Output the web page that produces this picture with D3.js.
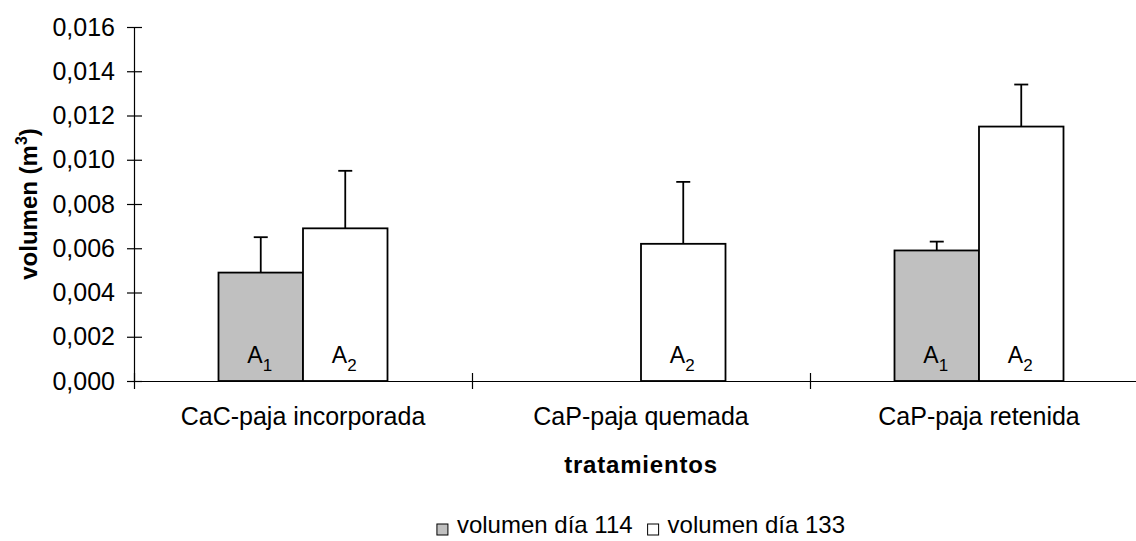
<!DOCTYPE html>
<html>
<head>
<meta charset="utf-8">
<script src="https://cdn.jsdelivr.net/npm/d3@7"></script>
<style>
  html, body { margin: 0; padding: 0; background: #fff; }
  svg { display: block; font-family: "Liberation Sans", Arial, Helvetica, sans-serif; }
</style>
</head>
<body>
<svg id="chart" width="1136" height="541"></svg>
<script>
// Treatments and series
const categories = ["CaC-paja incorporada", "CaP-paja quemada", "CaP-paja retenida"];
const seriesNames = ["volumen día 114", "volumen día 133"];

// Mean volume (m³) and standard error per treatment; null = not measured
const day114 = [0.0049, null, 0.0059];
const day114Err = [0.0016, null, 0.0004];
const day133 = [0.0069, 0.0062, 0.0115];
const day133Err = [0.0026, 0.0028, 0.0019];

// Significance letters drawn inside the bars (letter + subscript)
const day114Labels = ["A1", null, "A1"];
const day133Labels = ["A2", "A2", "A2"];

const yTicks = [0, 0.002, 0.004, 0.006, 0.008, 0.010, 0.012, 0.014, 0.016];

const seriesFill = ["#c0c0c0", "#ffffff"];

const svg = d3.select("#chart");
const plot = { left: 134, right: 1148, top: 27, bottom: 381 };

const x = d3.scaleBand().domain(categories).range([plot.left, plot.right]).paddingInner(0).paddingOuter(0);
const xEdge = d3.scaleLinear().domain([0, categories.length]).range([plot.left, plot.right]);
const y = d3.scaleLinear().domain([0, 0.016]).range([plot.bottom, plot.top]);
const barW = x.bandwidth() / 4;

const fmt = d3.formatLocale({ decimal: ",", thousands: ".", grouping: [3], currency: ["", ""] }).format(".3f");

// Y axis with crossing tick marks
const gy = svg.append("g")
  .attr("transform", `translate(${plot.left},0)`)
  .call(d3.axisLeft(y).tickValues(yTicks).tickFormat(fmt).tickSize(7).tickSizeOuter(0).tickPadding(12));
gy.selectAll(".tick line").attr("x1", 8);
gy.select(".domain").attr("stroke", "#000").attr("stroke-width", 1.2);
gy.selectAll(".tick line").attr("stroke", "#000").attr("stroke-width", 1.2);
gy.selectAll(".tick text").attr("font-size", 25).attr("fill", "#000")
  .attr("font-family", "'Liberation Sans', Arial, sans-serif");

// Series data as rows
const rows = [];
categories.forEach((c, i) => {
  [[day114, day114Err, day114Labels], [day133, day133Err, day133Labels]].forEach(([vals, errs, labs], s) => {
    if (vals[i] != null) rows.push({ cat: c, s, v: vals[i], e: errs[i], lab: labs[i] });
  });
});
const barX = d => x(d.cat) + x.bandwidth() / 2 + (d.s === 0 ? -barW : 0);

// Error bars (upper whisker only)
const eb = svg.append("g").selectAll("g").data(rows).join("g");
eb.append("line")
  .attr("x1", d => barX(d) + barW / 2).attr("x2", d => barX(d) + barW / 2)
  .attr("y1", d => y(d.v)).attr("y2", d => y(d.v + d.e))
  .attr("stroke", "#000").attr("stroke-width", 1.8);
eb.append("line")
  .attr("x1", d => barX(d) + barW / 2 - 7).attr("x2", d => barX(d) + barW / 2 + 7)
  .attr("y1", d => y(d.v + d.e)).attr("y2", d => y(d.v + d.e))
  .attr("stroke", "#000").attr("stroke-width", 1.8);

// Bars
svg.append("g").selectAll("rect").data(rows).join("rect")
  .attr("x", barX).attr("width", barW)
  .attr("y", d => y(d.v)).attr("height", d => y(0) - y(d.v))
  .attr("fill", d => seriesFill[d.s])
  .attr("stroke", "#000").attr("stroke-width", 1.8);

// X axis: line and boundary ticks
const gxe = svg.append("g")
  .attr("transform", `translate(0,${plot.bottom})`)
  .call(d3.axisBottom(xEdge).tickValues(d3.range(categories.length + 1)).tickFormat("").tickSize(8).tickSizeOuter(0));
gxe.selectAll(".tick line").attr("y1", -8).attr("stroke", "#000").attr("stroke-width", 1.2);
gxe.select(".domain").attr("stroke", "#000").attr("stroke-width", 1.2);

// X axis category labels
const gx = svg.append("g")
  .attr("transform", `translate(0,${plot.bottom})`)
  .call(d3.axisBottom(x).tickSize(0).tickPadding(26));
gx.select(".domain").remove();
gx.selectAll(".tick text").attr("font-size", 25).attr("fill", "#000")
  .attr("font-family", "'Liberation Sans', Arial, sans-serif");

// Letters inside bars
const lt = svg.append("g").selectAll("text").data(rows.filter(d => d.lab)).join("text")
  .attr("x", d => barX(d) + barW / 2 - 1)
  .attr("y", y(0) - 18)
  .attr("text-anchor", "middle")
  .attr("font-size", 23).attr("fill", "#000");
lt.append("tspan").text(d => d.lab[0]);
lt.append("tspan").attr("font-size", 17).attr("dy", 8).text(d => d.lab.slice(1));

// Axis titles
svg.append("text")
  .attr("x", (plot.left + plot.right) / 2).attr("y", 473)
  .attr("text-anchor", "middle").attr("font-size", 24).attr("font-weight", "bold")
  .attr("letter-spacing", 0.8)
  .text("tratamientos");

const yt = svg.append("text")
  .attr("transform", `translate(37,${(plot.top + plot.bottom) / 2}) rotate(-90)`)
  .attr("text-anchor", "middle").attr("font-size", 24).attr("font-weight", "bold");
yt.append("tspan").text("volumen (m");
yt.append("tspan").attr("font-size", 16).attr("dy", -10).text("3");
yt.append("tspan").attr("dy", 10).text(")");

// Legend
const legend = svg.append("g");
let lx = 0;
seriesNames.forEach((name, i) => {
  const g = legend.append("g").attr("transform", `translate(${lx},0)`);
  g.append("rect").attr("x", 0).attr("y", -9).attr("width", 11).attr("height", 11)
    .attr("fill", seriesFill[i]).attr("stroke", "#000").attr("stroke-width", 1);
  const t = g.append("text").attr("x", 20).attr("y", 0).attr("font-size", 24).attr("fill", "#000").text(name);
  lx += 20 + t.node().getComputedTextLength() + 15;
});
const legendW = lx - 15;
legend.attr("transform", `translate(${(plot.left + plot.right) / 2 - legendW / 2},533)`);
</script>
</body>
</html>
